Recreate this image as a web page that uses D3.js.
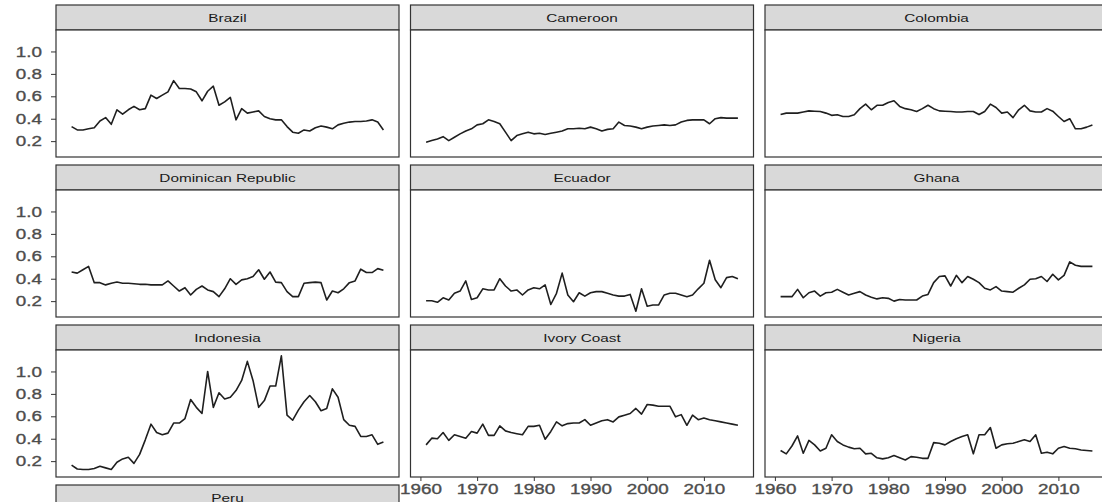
<!DOCTYPE html>
<html>
<head>
<meta charset="utf-8">
<script src="https://cdn.jsdelivr.net/npm/d3@7"></script>
<style>
  body { margin: 0; background: #fff; }
  svg { display: block; }
  text { font-family: "Liberation Sans", Arial, sans-serif; }
</style>
</head>
<body>
<svg id="chart" width="1102" height="502"></svg>
<script>
// Facet order (left to right, top to bottom)
const countries = ["Brazil", "Cameroon", "Colombia", "Dominican Republic", "Ecuador",
                   "Ghana", "Indonesia", "Ivory Coast", "Nigeria", "Peru"];

const firstYear = 1961;
const lastYear = 2016;
const years = d3.range(firstYear, lastYear + 1);

// Annual values, 1961-2016
const brazil = [0.33,0.30,0.30,0.31,0.32,0.38,0.41,0.35,0.48,0.44,
                0.48,0.51,0.48,0.49,0.61,0.58,0.61,0.64,0.74,0.67,
                0.67,0.665,0.64,0.56,0.645,0.69,0.52,0.55,0.59,0.39,
                0.49,0.45,0.46,0.47,0.42,0.40,0.39,0.39,0.33,0.28,
                0.27,0.30,0.29,0.32,0.335,0.325,0.31,0.345,0.36,0.37,
                0.375,0.375,0.38,0.39,0.37,0.30];
const cameroon = [0.19,0.205,0.22,0.24,0.205,0.235,0.265,0.29,0.31,0.345,
                  0.355,0.39,0.375,0.355,0.28,0.205,0.25,0.265,0.28,0.265,
                  0.27,0.26,0.27,0.28,0.29,0.31,0.31,0.315,0.31,0.325,
                  0.31,0.29,0.305,0.31,0.37,0.34,0.335,0.325,0.31,0.325,
                  0.335,0.34,0.345,0.34,0.345,0.37,0.385,0.39,0.39,0.39,
                  0.355,0.40,0.41,0.405,0.405,0.405];
const colombia = [0.437,0.45,0.45,0.45,0.46,0.47,0.467,0.465,0.45,0.43,
                  0.435,0.42,0.42,0.435,0.49,0.53,0.48,0.52,0.52,0.545,
                  0.56,0.51,0.49,0.48,0.465,0.49,0.52,0.49,0.47,0.467,
                  0.465,0.46,0.46,0.465,0.465,0.437,0.465,0.53,0.50,0.45,
                  0.46,0.41,0.48,0.52,0.47,0.46,0.46,0.49,0.467,0.42,
                  0.375,0.40,0.31,0.31,0.325,0.345];
const dominicanRepublic = [0.46,0.45,0.48,0.51,0.365,0.365,0.345,0.36,0.37,0.36,
                           0.36,0.355,0.35,0.35,0.345,0.345,0.345,0.38,0.335,0.29,
                           0.32,0.255,0.305,0.335,0.30,0.285,0.24,0.31,0.40,0.35,
                           0.39,0.40,0.42,0.48,0.395,0.46,0.37,0.365,0.285,0.24,
                           0.24,0.36,0.365,0.37,0.365,0.21,0.29,0.275,0.31,0.365,
                           0.38,0.485,0.455,0.455,0.49,0.475];
const ecuador = [0.203,0.203,0.19,0.23,0.21,0.27,0.29,0.38,0.215,0.23,
                 0.31,0.30,0.30,0.40,0.335,0.29,0.30,0.255,0.30,0.32,
                 0.31,0.345,0.17,0.27,0.45,0.255,0.195,0.275,0.245,0.275,
                 0.285,0.285,0.27,0.255,0.245,0.245,0.26,0.11,0.31,0.155,
                 0.165,0.165,0.255,0.27,0.27,0.255,0.24,0.255,0.31,0.36,
                 0.565,0.39,0.32,0.41,0.42,0.40];
const ghana = [0.24,0.24,0.24,0.305,0.23,0.275,0.29,0.245,0.275,0.28,
               0.305,0.28,0.255,0.27,0.285,0.255,0.235,0.22,0.23,0.225,
               0.20,0.215,0.21,0.21,0.21,0.245,0.26,0.365,0.42,0.425,
               0.335,0.43,0.365,0.42,0.395,0.365,0.315,0.30,0.33,0.29,
               0.285,0.28,0.315,0.345,0.395,0.40,0.42,0.375,0.44,0.39,
               0.43,0.55,0.52,0.51,0.51,0.51];
const indonesia = [0.165,0.13,0.125,0.125,0.135,0.155,0.14,0.125,0.19,0.22,
                   0.235,0.18,0.26,0.39,0.53,0.455,0.435,0.45,0.54,0.54,
                   0.58,0.75,0.68,0.625,1.0,0.68,0.81,0.755,0.77,0.83,
                   0.92,1.09,0.92,0.68,0.74,0.87,0.87,1.14,0.61,0.565,
                   0.655,0.73,0.785,0.73,0.65,0.67,0.845,0.77,0.57,0.52,
                   0.51,0.42,0.42,0.435,0.35,0.37];
const ivoryCoast = [0.345,0.405,0.40,0.455,0.385,0.435,0.42,0.405,0.465,0.45,
                    0.53,0.43,0.43,0.515,0.47,0.455,0.445,0.435,0.51,0.51,
                    0.52,0.395,0.465,0.55,0.515,0.535,0.54,0.54,0.57,0.52,
                    0.54,0.56,0.57,0.55,0.595,0.61,0.625,0.67,0.62,0.705,
                    0.70,0.69,0.69,0.69,0.595,0.615,0.52,0.61,0.57,0.585,
                    0.57,0.56,0.55,0.54,0.53,0.52];
const nigeria = [0.295,0.265,0.335,0.425,0.27,0.385,0.345,0.29,0.315,0.435,
                 0.375,0.345,0.325,0.31,0.315,0.265,0.27,0.23,0.22,0.23,
                 0.25,0.23,0.21,0.24,0.235,0.225,0.225,0.365,0.36,0.345,
                 0.375,0.40,0.42,0.435,0.265,0.435,0.435,0.50,0.315,0.345,
                 0.355,0.36,0.375,0.39,0.375,0.435,0.27,0.28,0.265,0.315,
                 0.33,0.315,0.31,0.30,0.295,0.29];

const seriesByCountry = {
  "Brazil": brazil, "Cameroon": cameroon, "Colombia": colombia,
  "Dominican Republic": dominicanRepublic, "Ecuador": ecuador, "Ghana": ghana,
  "Indonesia": indonesia, "Ivory Coast": ivoryCoast, "Nigeria": nigeria
};

const yTicks = [0.2, 0.4, 0.6, 0.8, 1.0];
const xTicks = [1960, 1970, 1980, 1990, 2000, 2010];

// ---- layout ----
const width = 1102, height = 502;
const nCol = 3;
const left0 = 56, colStep = 354.5, panelW = 343;
const top0 = 5, rowStep = 160, stripH = 25, plotH = 127;
const textStretch = 1.3;   // wide glyphs
const borderColor = "#333";
const tickTextColor = "#4d4d4d";

const svg = d3.select("#chart");

// shared scales with 5% padding on each side
function padded(lo, hi) {
  const d = (hi - lo) * 0.05;
  return [lo - d, hi + d];
}
const allValues = Object.values(seriesByCountry).flat();
const x = d3.scaleLinear().domain(padded(firstYear, lastYear)).range([0, panelW]);
const y = d3.scaleLinear().domain(padded(d3.min(allValues), d3.max(allValues))).range([plotH, 0]);

const line = d3.line()
  .x((d, i) => x(years[i]))
  .y(d => y(d));

function styleTickText(sel) {
  sel.attr("font-size", 14.5)
    .attr("fill", tickTextColor)
    .attr("stroke", tickTextColor)
    .attr("stroke-width", 0.35)
    .attr("font-family", "\"Liberation Sans\", Arial, sans-serif");
}

countries.forEach((name, i) => {
  const col = i % nCol, row = Math.floor(i / nCol);
  const top = top0 + row * rowStep;
  const g = svg.append("g")
    .attr("transform", `translate(${left0 + col * colStep},${top})`);

  // strip
  g.append("rect")
    .attr("x", 0).attr("y", 0).attr("width", panelW).attr("height", stripH)
    .attr("fill", "#d9d9d9").attr("stroke", borderColor).attr("stroke-width", 1.2);
  g.append("text")
    .attr("transform", `translate(${panelW / 2},${stripH / 2 + 0.5}) scale(${textStretch},1)`)
    .attr("text-anchor", "middle")
    .attr("dominant-baseline", "central")
    .attr("font-size", 11.8)
    .attr("fill", "#1a1a1a")
    .text(name);

  const plot = g.append("g").attr("transform", `translate(0,${stripH})`);
  plot.append("rect")
    .attr("width", panelW).attr("height", plotH)
    .attr("fill", "#fff");

  const values = seriesByCountry[name];
  if (values) {
    plot.append("path")
      .datum(values)
      .attr("d", line)
      .attr("fill", "none")
      .attr("stroke", "#1f1f1f")
      .attr("stroke-width", 1.6)
      .attr("stroke-linejoin", "round");
  }

  plot.append("rect")
    .attr("width", panelW).attr("height", plotH)
    .attr("fill", "none").attr("stroke", borderColor).attr("stroke-width", 1.2);

  // axes only where the panel body is on the page
  const bodyVisible = top + stripH < height;

  // y axis on the first column
  if (col === 0 && bodyVisible) {
    const ax = plot.append("g")
      .call(d3.axisLeft(y).tickValues(yTicks).tickFormat(d3.format(".1f")).tickSize(5).tickPadding(4));
    ax.select(".domain").remove();
    ax.selectAll(".tick line").attr("stroke", borderColor);
    ax.selectAll(".tick text")
      .attr("x", -14 / textStretch)
      .attr("transform", `scale(${textStretch},1)`)
      .call(styleTickText);
  }

  // x axis under panels with nothing below them
  if (i + nCol >= countries.length && bodyVisible) {
    const ax = plot.append("g")
      .attr("transform", `translate(0,${plotH})`)
      .call(d3.axisBottom(x).tickValues(xTicks).tickFormat(d3.format("d")).tickSize(4).tickPadding(3));
    ax.select(".domain").remove();
    ax.selectAll(".tick line").attr("stroke", borderColor);
    ax.selectAll(".tick text")
      .attr("transform", `scale(${textStretch},1)`)
      .call(styleTickText);
  }
});
</script>
</body>
</html>
